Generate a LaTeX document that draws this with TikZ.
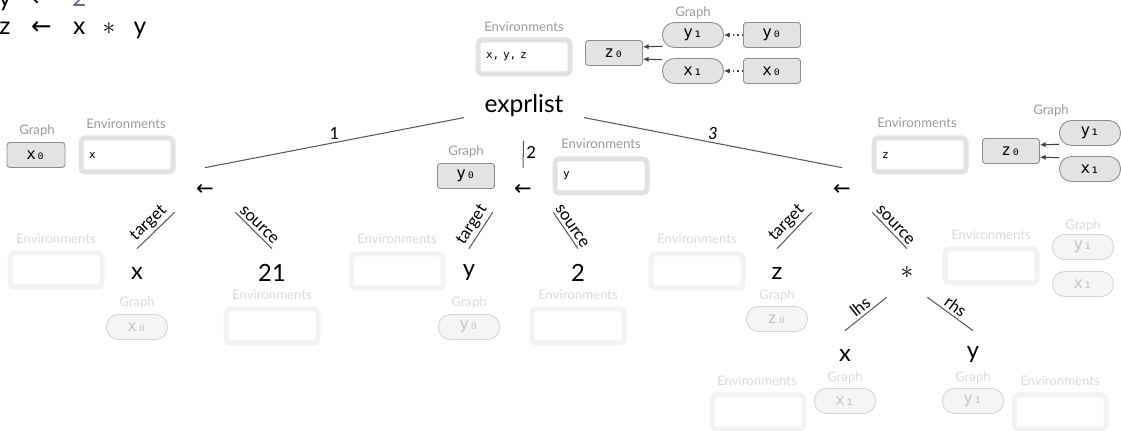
\documentclass[tikz,border=0pt]{standalone}
\usepackage{fontspec}
\setmainfont{Lato}
\newfontfamily\codefont{DejaVu Sans Mono}
\newfontfamily\symbolfont{DejaVu Sans}
\usetikzlibrary{arrows.meta}

\newdimen\upx \upx=0.02cm
\newcommand\Larrow{{\symbolfont ←}}

\definecolor{LabelGray}{HTML}{9A9A9A}
\definecolor{FadeLabel}{HTML}{DADADA}
\definecolor{EnvBorder}{HTML}{E2E2E2}
\definecolor{FadeBorder}{HTML}{F2F2F2}
\definecolor{GraphFill}{HTML}{E3E3E3}
\definecolor{GraphBorder}{HTML}{8C8C8C}
\definecolor{FadeFill}{HTML}{F5F5F5}
\definecolor{FadePill}{HTML}{D5D5D5}
\definecolor{FadeText}{HTML}{C4C4C4}
\definecolor{CodePurple}{HTML}{7D5C93}

\tikzset{
  CodeLine/.style={font=\fontsize{14}{16}\selectfont, inner sep=0pt, anchor=base west},
  TreeNode/.style={font=\fontsize{13.5}{16}\selectfont, inner sep=0pt, minimum height=48\upx},
  ArrowNode/.style={font=\symbolfont\fontsize{12}{14}\selectfont, inner sep=0pt, minimum width=60\upx, minimum height=44\upx},
  Branch/.style={draw=black!65, line width=0.6pt},
  EdgeLabel/.style={font=\fontsize{9.5}{11}\selectfont, inner sep=1.5pt},
  BoxLabel/.style={font=\fontsize{7.5}{9}\selectfont, text=LabelGray, inner sep=0pt},
  FadeLabel/.style={BoxLabel, text=FadeLabel},
  EnvBox/.style={draw=EnvBorder, line width=5\upx, fill=white, rounded corners=4\upx, minimum width=92\upx, minimum height=34\upx, inner sep=0pt, text width=76\upx, align=left, font=\codefont\fontsize{6.3}{7}\selectfont},
  FadeEnv/.style={EnvBox, draw=FadeBorder},
  VarBox/.style={draw=GraphBorder, fill=GraphFill, line width=0.5pt, rounded corners=3\upx, minimum width=57\upx, minimum height=25\upx, inner sep=0pt, font=\codefont\fontsize{9}{10}\selectfont},
  VarPill/.style={VarBox, rounded corners=12\upx, minimum width=61\upx},
  FadePill/.style={VarPill, draw=FadePill, fill=FadeFill, text=FadeText},
  DepArrow/.style={-{Latex[length=3.2pt, width=3pt]}, draw=black!75, line width=0.6pt}
}

\begin{document}
\begin{tikzpicture}[x=0.02cm, y=-0.02cm]
  \useasboundingbox (0,0) rectangle (1121,431);
  \clip (0,0) rectangle (1121,431);

  % program text, cut at the top
  \node (CodeY) at (0,7) [CodeLine] {\makebox[9\upx][c]{y}\makebox[64\upx][c]{\Larrow}\makebox[12\upx][c]{\textcolor{CodePurple}{2}}};
  \node (CodeZ) at (0,35) [CodeLine] {\makebox[9\upx][c]{z}\makebox[64\upx][c]{\Larrow}\makebox[12\upx][c]{x}\makebox[47\upx][c]{$\ast$}\makebox[15\upx][c]{y}};

  % state after the whole list
  \node (EnvLabelTop) at (524,27) [BoxLabel] {Environments};
  \node (EnvTop) at (524,57) [EnvBox] {x, y, z};
  \node (GraphLabelTop) at (693,13) [BoxLabel] {Graph};
  \node (ZeroZTop) at (614,53) [VarBox] {z₀};
  \node (OneYTop) at (693,35) [VarPill] {y₁};
  \node (OneXTop) at (693,71) [VarPill] {x₁};
  \node (ZeroYTop) at (772,35) [VarBox] {y₀};
  \node (ZeroXTop) at (772,71) [VarBox] {x₀};
  \draw [DepArrow] (OneYTop.200) -- (ZeroZTop.12);
  \draw [DepArrow] (OneXTop.160) -- (ZeroZTop.-12);
  \draw [DepArrow, dotted] (ZeroYTop.west) -- (OneYTop.east);
  \draw [DepArrow, dotted] (ZeroXTop.west) -- (OneXTop.east);

  % tree
  \node (ExprList) at (524,113) [anchor=base, font=\fontsize{14}{16}\selectfont, inner ysep=0pt, inner xsep=20\upx] {exprlist};
  \node (AssignX) at (205,190) [ArrowNode] {←};
  \node (AssignY) at (523,190) [ArrowNode] {←};
  \node (AssignZ) at (842,190) [ArrowNode] {←};

  \draw [Branch] (ExprList.south west) -- node [EdgeLabel, above] {1} (AssignX.north);
  \draw [Branch, shorten <=23\upx] (ExprList.south) -- node [EdgeLabel, right, pos=0.7] {2} (AssignY.north);
  \draw [Branch] (ExprList.south east) -- node [EdgeLabel, above] {\itshape 3} (AssignZ.north);

  \node (TargetX) at (137,273) [TreeNode] {x};
  \node (SourceX) at (272,273) [TreeNode] {21};
  \node (TargetY) at (469,273) [TreeNode] {y};
  \node (SourceY) at (578,273) [TreeNode] {2};
  \node (TargetZ) at (777,273) [TreeNode] {z};
  \node (SourceZ) at (907,273) [TreeNode, minimum width=40\upx] {$\ast$};
  \node (LhsX) at (845,355) [TreeNode] {x};
  \node (RhsY) at (973,355) [TreeNode] {y};

  \draw [Branch] (AssignX.south west) -- node [EdgeLabel, sloped, above] {target} (TargetX.north);
  \draw [Branch] (AssignX.south east) -- node [EdgeLabel, sloped, above] {source} (SourceX.north);
  \draw [Branch] (AssignY.south west) -- node [EdgeLabel, sloped, above] {target} (TargetY.north);
  \draw [Branch] (AssignY.south east) -- node [EdgeLabel, sloped, above] {source} (SourceY.north);
  \draw [Branch] (AssignZ.south west) -- node [EdgeLabel, sloped, above] {target} (TargetZ.north);
  \draw [Branch] (AssignZ.south east) -- node [EdgeLabel, sloped, above] {source} (SourceZ.north);
  \draw [Branch] (SourceZ.-130) -- node [EdgeLabel, sloped, above] {lhs} (LhsX.north);
  \draw [Branch] (SourceZ.-50) -- node [EdgeLabel, sloped, above] {rhs} (RhsY.north);

  % state after each assignment
  \node (GraphLabelX) at (37,131) [BoxLabel] {Graph};
  \node (ZeroXLeft) at (36,155) [VarBox, minimum width=58\upx] {x₀};
  \node (EnvLabelX) at (126,124) [BoxLabel] {Environments};
  \node (EnvX) at (127,155) [EnvBox] {x};

  \node (GraphLabelY) at (466,152) [BoxLabel] {Graph};
  \node (ZeroYMid) at (466,176) [VarBox] {y₀};
  \node (EnvLabelY) at (601,144) [BoxLabel] {Environments};
  \node (EnvY) at (601,176) [EnvBox] {y};

  \node (EnvLabelZ) at (917,123) [BoxLabel] {Environments};
  \node (EnvZ) at (920,155) [EnvBox] {z};
  \node (GraphLabelZ) at (1051,111) [BoxLabel] {Graph};
  \node (ZeroZRight) at (1011,151) [VarBox] {z₀};
  \node (OneYRight) at (1090,133) [VarPill] {y₁};
  \node (OneXRight) at (1090,169) [VarPill] {x₁};
  \draw [DepArrow] (OneYRight.200) -- (ZeroZRight.12);
  \draw [DepArrow] (OneXRight.160) -- (ZeroZRight.-12);

  % faded states of the leaves
  \node (EnvLabelTX) at (56,239) [FadeLabel] {Environments};
  \node (EnvTX) at (56,270) [FadeEnv] {};
  \node (GraphLabelTX) at (137,303) [FadeLabel] {Graph};
  \node (PillTX) at (137,327) [FadePill] {x₀};
  \node (EnvLabelSX) at (272,295) [FadeLabel] {Environments};
  \node (EnvSX) at (272,326) [FadeEnv] {};

  \node (EnvLabelTY) at (397,239) [FadeLabel] {Environments};
  \node (EnvTY) at (397,271) [FadeEnv] {};
  \node (GraphLabelTY) at (469,303) [FadeLabel] {Graph};
  \node (PillTY) at (469,327) [FadePill] {y₀};
  \node (EnvLabelSY) at (578,295) [FadeLabel] {Environments};
  \node (EnvSY) at (578,326) [FadeEnv] {};

  \node (EnvLabelTZ) at (697,239) [FadeLabel] {Environments};
  \node (EnvTZ) at (697,271) [FadeEnv] {};
  \node (GraphLabelTZ) at (777,296) [FadeLabel] {Graph};
  \node (PillTZ) at (777,319) [FadePill] {z₀};
  \node (EnvLabelSZ) at (991,235) [FadeLabel] {Environments};
  \node (EnvSZ) at (991,266) [FadeEnv] {};
  \node (GraphLabelSZ) at (1083,226) [FadeLabel] {Graph};
  \node (PillSZY) at (1083,247) [FadePill] {y₁};
  \node (PillSZX) at (1083,284) [FadePill] {x₁};

  \node (EnvLabelLhs) at (757,381) [FadeLabel] {Environments};
  \node (EnvLhs) at (758,412) [FadeEnv] {};
  \node (GraphLabelLhs) at (845,378) [FadeLabel] {Graph};
  \node (PillLhs) at (845,401) [FadePill] {x₁};
  \node (GraphLabelRhs) at (973,378) [FadeLabel] {Graph};
  \node (PillRhs) at (973,401) [FadePill] {y₁};
  \node (EnvLabelRhs) at (1060,381) [FadeLabel] {Environments};
  \node (EnvRhs) at (1060,412) [FadeEnv] {};
\end{tikzpicture}
\end{document}
